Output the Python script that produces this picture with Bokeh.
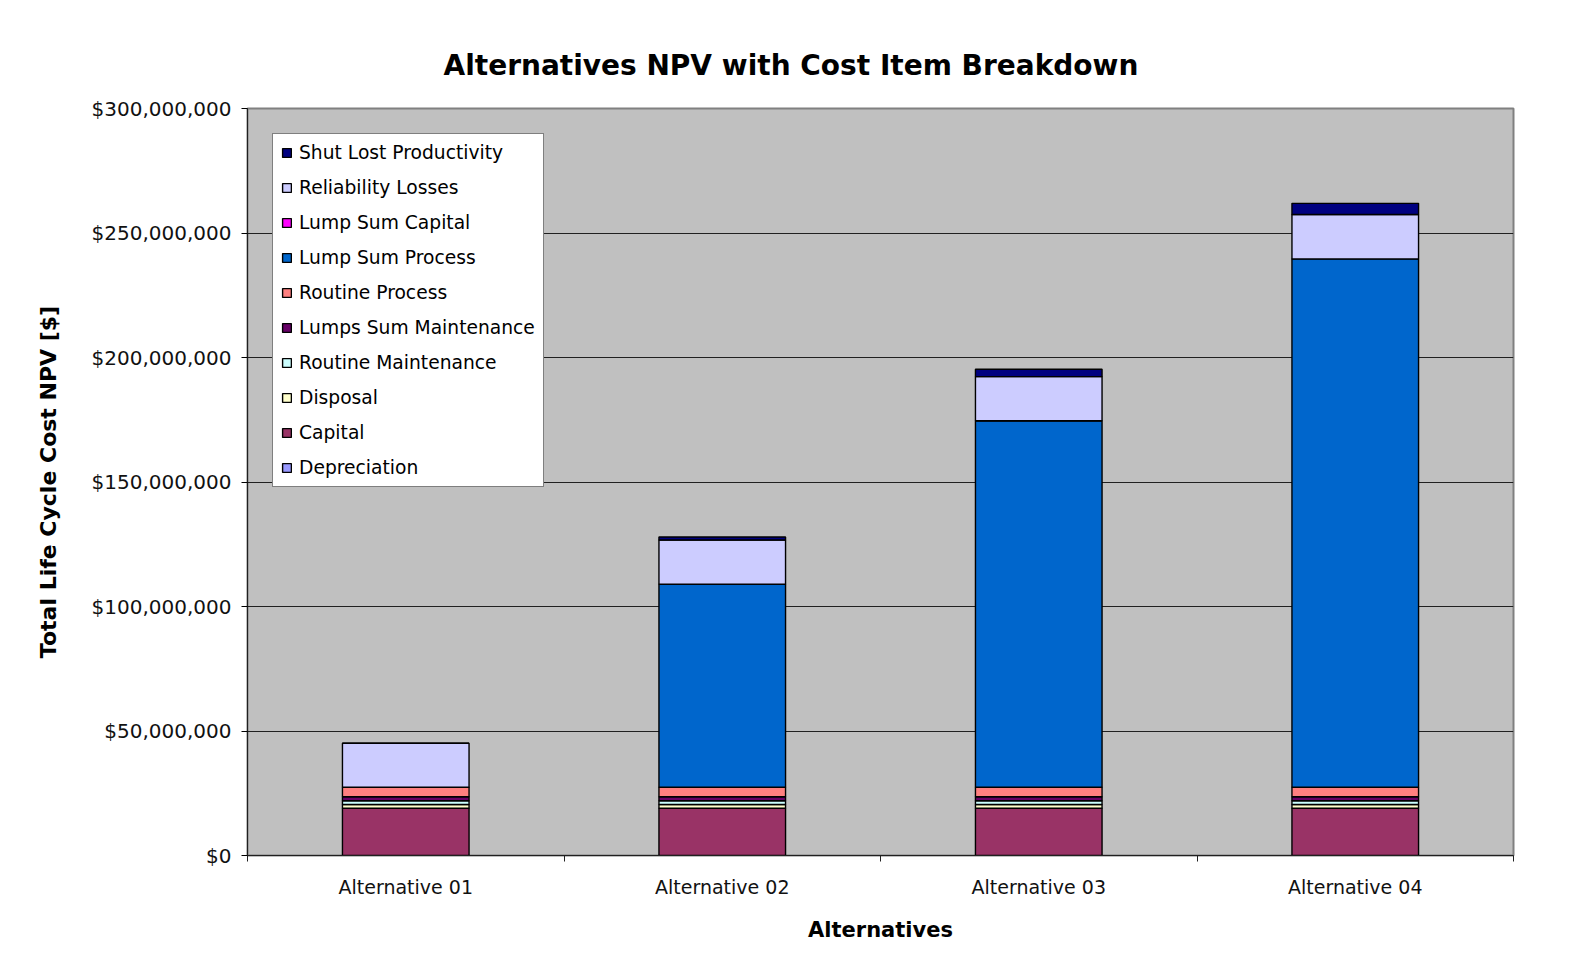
from bokeh.plotting import figure
from bokeh.models import (FixedTicker, NumeralTickFormatter, Legend, LegendItem,
                          ColumnDataSource, Range1d, Title)
from bokeh.embed import file_html
from bokeh.resources import INLINE

# ---- data ----
alternatives = ["Alternative 01", "Alternative 02", "Alternative 03", "Alternative 04"]
# stacking order bottom -> top
series = ["Depreciation", "Capital", "Disposal", "Routine Maintenance",
          "Lumps Sum Maintenance", "Routine Process", "Lump Sum Process",
          "Lump Sum Capital", "Reliability Losses", "Shut Lost Productivity"]
depreciation        = [0, 0, 0, 0]
capital             = [19.0e6, 19.0e6, 19.0e6, 19.0e6]
disposal            = [1.5e6, 1.5e6, 1.5e6, 1.5e6]
routine_maintenance = [1.5e6, 1.5e6, 1.5e6, 1.5e6]
lumps_sum_maint     = [1.6e6, 1.6e6, 1.6e6, 1.6e6]
routine_process     = [3.8e6, 3.8e6, 3.8e6, 3.8e6]
lump_sum_process    = [0, 81.6e6, 147.2e6, 212.2e6]
lump_sum_capital    = [0, 0, 0, 0]
reliability_losses  = [17.7e6, 17.7e6, 17.7e6, 17.8e6]
shut_lost_prod      = [0, 1.2e6, 3.0e6, 4.5e6]

colors = ["#9999FF", "#993366", "#FFFFCC", "#CCFFFF", "#660066",
          "#FF8080", "#0066CC", "#FF00FF", "#CCCCFF", "#000080"]

y_ticks = [0, 50e6, 100e6, 150e6, 200e6, 250e6, 300e6]

values = [depreciation, capital, disposal, routine_maintenance, lumps_sum_maint,
          routine_process, lump_sum_process, lump_sum_capital, reliability_losses,
          shut_lost_prod]

data = {"x": [i + 0.5 for i in range(len(alternatives))]}
for name, vals in zip(series, values):
    data[name] = vals
source = ColumnDataSource(data)

FONT = "DejaVu Sans"

p = figure(width=1565, height=958, output_backend="svg", toolbar_location=None,
           x_range=Range1d(0, len(alternatives)), y_range=Range1d(0, 300e6),
           min_border_left=247, min_border_right=52, min_border_top=108,
           min_border_bottom=103)
p.background_fill_color = "#C0C0C0"
p.border_fill_color = "white"
p.outline_line_color = "#808080"
p.outline_line_width = 2

renderers = p.vbar_stack(series, x="x", width=0.4, source=source,
                         fill_color=colors, line_color="black", line_width=1.4)

# title
t = Title(text="Alternatives NPV with Cost Item Breakdown", align="left", offset=196,
          text_font=FONT, text_font_size="28px", text_font_style="bold",
          text_color="black", standoff=53)
p.add_layout(t, "above")

# grid
p.xgrid.visible = False
p.ygrid.ticker = FixedTicker(ticks=y_ticks)
p.ygrid.grid_line_color = "#202020"
p.ygrid.grid_line_width = 1

# y axis
p.yaxis.ticker = FixedTicker(ticks=y_ticks)
p.yaxis.formatter = NumeralTickFormatter(format="$0,0")
p.yaxis.major_label_text_font = FONT
p.yaxis.major_label_text_font_size = "20px"
p.yaxis.major_label_text_color = "#111111"
p.yaxis.major_tick_out = 6
p.yaxis.major_tick_in = 0
p.yaxis.minor_tick_line_color = None
p.yaxis.axis_line_color = "#202020"
p.yaxis.axis_label = "Total Life Cycle Cost NPV [$]"
p.yaxis.axis_label_text_font = FONT
p.yaxis.axis_label_text_font_size = "22px"
p.yaxis.axis_label_text_font_style = "bold"
p.yaxis.axis_label_text_color = "black"
p.yaxis.axis_label_standoff = 28
p.yaxis.major_label_standoff = 10

# x axis
p.xaxis.ticker = FixedTicker(ticks=data["x"], minor_ticks=list(range(len(alternatives) + 1)))
p.xaxis.major_label_overrides = {v: a for v, a in zip(data["x"], alternatives)}
p.xaxis.major_tick_line_color = None
p.xaxis.minor_tick_out = 6
p.xaxis.minor_tick_in = 0
p.xaxis.minor_tick_line_color = "#202020"
p.xaxis.axis_line_color = "#202020"
p.xaxis.major_label_text_font = FONT
p.xaxis.major_label_text_font_size = "19px"
p.xaxis.major_label_text_color = "#111111"
p.xaxis.major_label_standoff = 14
p.xaxis.axis_label = "Alternatives"
p.xaxis.axis_label_text_font = FONT
p.xaxis.axis_label_text_font_size = "21px"
p.xaxis.axis_label_text_font_style = "bold"
p.xaxis.axis_label_text_color = "black"
p.xaxis.axis_label_standoff = 17

# legend (reverse order: top of stack first)
items = [LegendItem(label=n, renderers=[r]) for n, r in zip(series, renderers)][::-1]
legend = Legend(items=items, location="top_left", margin=25)
legend.label_text_font = FONT
legend.label_text_font_size = "18.7px"
legend.label_text_color = "black"
legend.glyph_width = 11
legend.glyph_height = 11
legend.label_height = 21
legend.spacing = 14
legend.padding = 8
legend.label_standoff = 7
legend.border_line_color = "black"
legend.border_line_width = 1
legend.background_fill_color = "white"
legend.background_fill_alpha = 1
p.add_layout(legend)

open("out.html", "w").write(file_html(p, INLINE))
